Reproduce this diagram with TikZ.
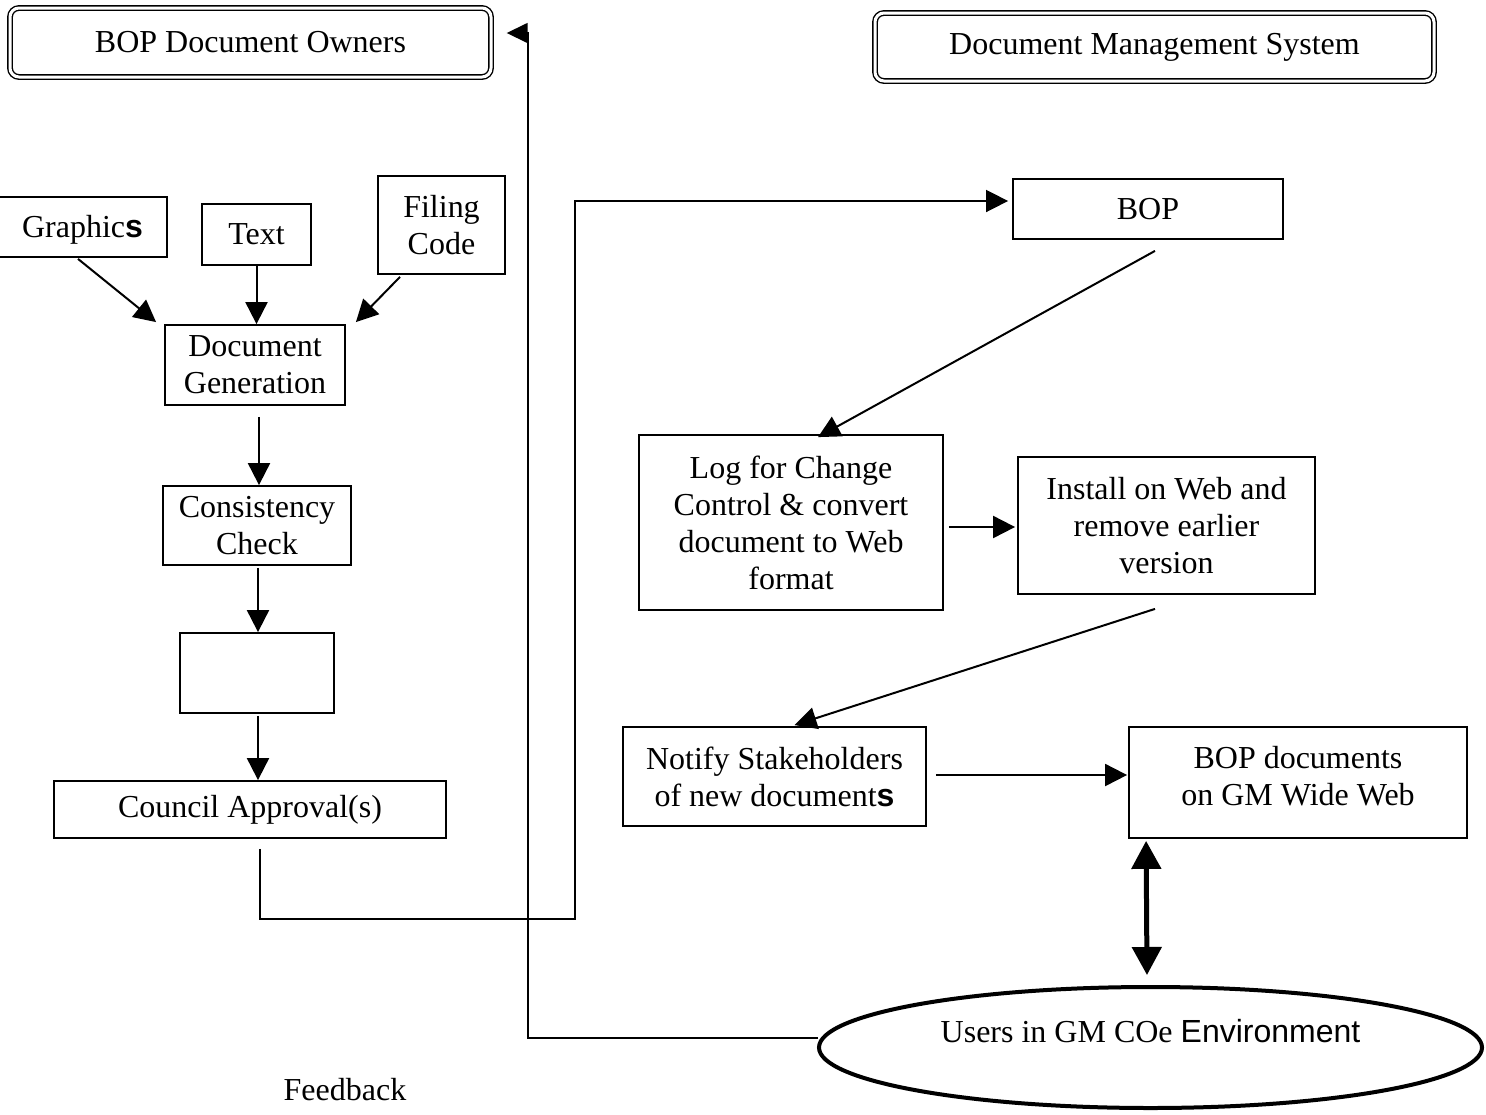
\documentclass[tikz,border=0pt]{standalone}
\usepackage{fontspec}
\setmainfont{Liberation Serif}
\newfontfamily\arialfont{Liberation Sans}
\usetikzlibrary{arrows.meta,shapes.geometric,calc}

\begin{document}
\begin{tikzpicture}[x=1pt,y=-1pt,
  every node/.style={font=\fontsize{32}{37}\selectfont},
  box/.style={draw,line width=1.8pt,inner sep=0pt,align=center},
  titlebox/.style={draw,line width=1.4pt,double,double distance=3pt,
                   rounded corners=9pt,inner sep=0pt},
  arr/.style={line width=2pt,-{Triangle[length=22pt,width=22pt]}},
  link/.style={line width=1.6pt},
  bigarr/.style={line width=5pt,{Triangle[length=28pt,width=29pt]}-{Triangle[length=28pt,width=29pt]}},
]
\useasboundingbox (0,0) rectangle (1486,1114);

% headings
\node[titlebox,minimum width=481pt,minimum height=69pt] (owners) at (250.5,42.5) {BOP Document Owners};
\node[titlebox,minimum width=559pt,minimum height=68pt] (dms) at (1154.5,47) {Document Management System};

% document owner side
\node[box,minimum width=169pt,minimum height=60pt,text depth=2pt] (gfx) at (82.5,227) {Graphic{\arialfont\bfseries s}};
\node[box,minimum width=109pt,minimum height=61pt] (txt) at (256.5,234.5) {Text};
\node[box,minimum width=127pt,minimum height=98pt] (filing) at (441.5,225) {Filing\\Code};
\node[box,minimum width=180pt,minimum height=80pt] (gen) at (255,365) {Document\\Generation};
\node[box,minimum width=188pt,minimum height=79pt] (cons) at (257,525.5) {Consistency\\Check};
\node[box,minimum width=154pt,minimum height=80pt] (blank) at (257,673) {};
\node[box,minimum width=392pt,minimum height=57pt] (council) at (250,809.5) {Council Approval(s)};

% document management side
\node[box,minimum width=270pt,minimum height=60pt] (bop) at (1148,209) {BOP};
\node[box,minimum width=304pt,minimum height=175pt] (log) at (791,522.5)
  {Log for Change\\Control \& convert\\document to Web\\format};
\node[box,minimum width=297pt,minimum height=137pt] (install) at (1166.5,525.5)
  {Install on Web and\\remove earlier\\version};
\node[box,minimum width=303pt,minimum height=99pt] (notify) at (774.5,776.5)
  {Notify Stakeholders\\of new document{\arialfont\bfseries s}};
\node[box,minimum width=338pt,minimum height=111pt,text depth=13pt] (bopdocs) at (1298,782.5)
  {BOP documents\\on GM Wide Web};
\node[draw,ellipse,line width=4pt,minimum width=663pt,minimum height=121pt,
      inner sep=0pt,text depth=34pt] (users) at (1150.5,1047.5)
  {Users in GM COe {\arialfont Environment}};

\node (fb) at (345,1090) {Feedback};

% inputs to document generation
\draw[arr] ($(gfx.south)+(-4.5,1)$) -- ($(gen.north west)+(-8,-2)$);
\draw[arr] (txt.south) -- (txt.south |- gen.north);
\draw[arr] ($(filing.south)+(-41.5,2)$) -- ($(gen.north east)+(10,-2)$);

% approval chain
\draw[arr] ($(gen.south)+(4,11)$) -- ($(cons.north)+(2,0)$);
\draw[arr] ($(cons.south)+(1,2)$) -- ($(blank.north)+(1,0)$);
\draw[arr] ($(blank.south)+(1,2)$) -- ($(council.north)+(8,0)$);

% approved documents handed over to the system
\draw[link,-{Triangle[length=22pt,width=22pt]}] ($(council.south)+(10,10)$) -- ++(0,70) -| ($(bop.west)+(-437,-8)$) -- ($(bop.west)+(-4,-8)$);

% processing in the document management system
\draw[arr] ($(bop.south)+(7,11)$) -- ($(log.north)+(27,3)$);
\draw[arr] ($(log.east)+(5,4.5)$) -- ($(install.west)+(-2,1.5)$);
\draw[arr] ($(install.south)+(-11.5,14)$) -- ($(notify.north)+(20,-1)$);
\draw[arr] ($(notify.east)+(9,-1.5)$) -- ($(bopdocs.west)+(-1,-7.5)$);
\draw[bigarr] ($(bopdocs.south west)+(18,2)$) -- ($(users.north)+(-3.5,-10)$);

% feedback path back to the owners
\draw[link,-{Triangle[length=21pt,width=20pt]}] ($(users.west)+(1,-9.5)$) -| ($(owners.east)+(36,-9.5)$) -- ($(owners.east)+(15,-9.5)$);
\end{tikzpicture}
\end{document}
